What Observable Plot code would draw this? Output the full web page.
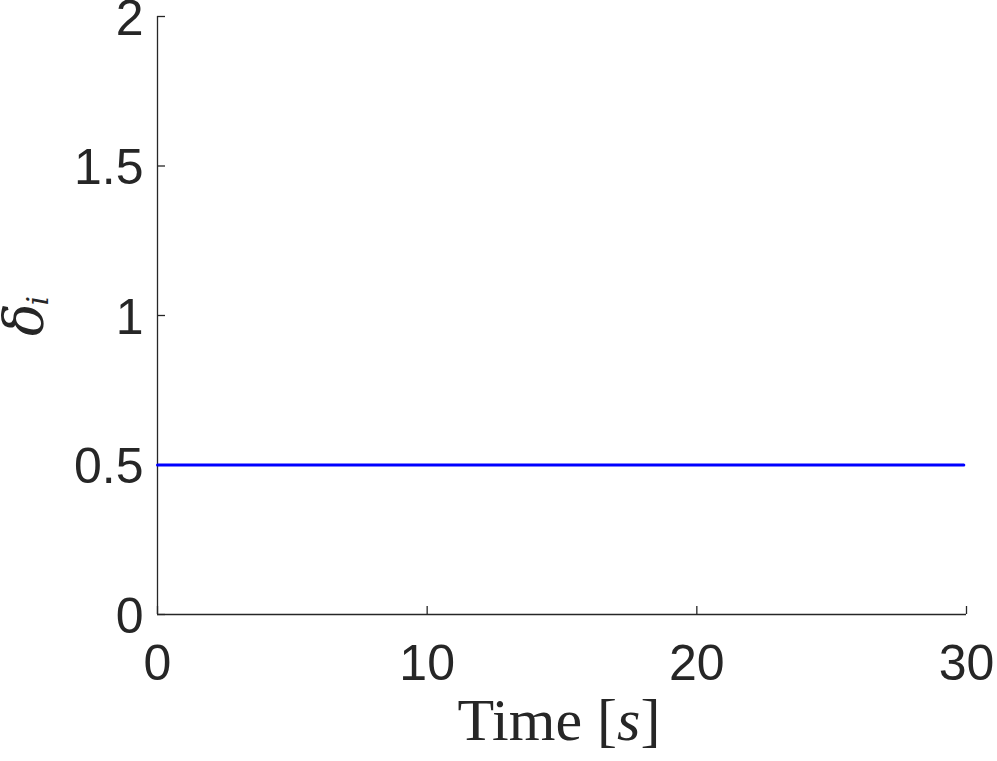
<!DOCTYPE html>
<html>
<head>
<meta charset="utf-8">
<script src="https://cdn.jsdelivr.net/npm/d3@7"></script>
<script src="https://cdn.jsdelivr.net/npm/@observablehq/plot@0.6"></script>
<style>
  html, body { margin: 0; padding: 0; background: #fff; }
</style>
</head>
<body>
<div id="chart"></div>
<script>
// Data
const time = [0, 29.9];
const delta = [0.5, 0.5];
const xTicks = [0, 10, 20, 30];
const yTicks = [0, 0.5, 1, 1.5, 2];
const xDomain = [0, 30];
const yDomain = [0, 2];

const rows = time.map((t, i) => ({t, d: delta[i]}));
const axisColor = "#262626";

const plot = Plot.plot({
  width: 997,
  height: 761,
  marginLeft: 157,
  marginRight: 31,
  marginTop: 16,
  marginBottom: 147,
  style: {fontFamily: "'Liberation Sans', Arial, Helvetica, sans-serif", fontSize: "50px", color: axisColor, background: "#fff", overflow: "visible"},
  x: {domain: xDomain},
  y: {domain: yDomain},
  marks: [
    Plot.axisX({ticks: xTicks, tickFormat: d => String(d), tickSize: -8, tickPadding: 38, label: null, stroke: axisColor, strokeWidth: 1.3, fill: axisColor}),
    // y tick marks (inward)
    Plot.axisY({ticks: yTicks, tickFormat: () => "", tickSize: -8, label: null, stroke: axisColor, strokeWidth: 1.3}),
    // y tick labels
    Plot.axisY({ticks: yTicks, tickFormat: d => String(d), tickSize: 0, tickPadding: 14, dy: 2, label: null, fill: axisColor}),
    Plot.ruleY([yDomain[0]], {stroke: axisColor, strokeWidth: 1.3}),
    Plot.ruleX([xDomain[0]], {stroke: axisColor, strokeWidth: 1.3}),
    Plot.lineY(rows, {x: "t", y: "d", stroke: "#0000ff", strokeWidth: 3})
  ]
});

const svg = d3.select(plot);
// x label
const xl = svg.append("text")
  .attr("x", 559)
  .attr("y", 740)
  .attr("text-anchor", "middle")
  .attr("font-family", "'Liberation Serif', 'DejaVu Serif', serif")
  .attr("font-size", 60)
  .attr("fill", axisColor);
xl.append("tspan").text("Time [");
xl.append("tspan").attr("font-style", "italic").text("s");
xl.append("tspan").text("]");

// y label
const yl = svg.append("text")
  .attr("transform", "translate(42,316) rotate(-90)")
  .attr("text-anchor", "middle")
  .attr("font-family", "'DejaVu Serif', 'Liberation Serif', serif")
  .attr("font-size", 54)
  .attr("fill", axisColor);
yl.append("tspan").attr("font-style", "italic").text("δ");
yl.append("tspan").attr("font-style", "italic").attr("font-size", 30).attr("dx", -2).attr("dy", 6).text("i");

document.getElementById("chart").appendChild(plot);
</script>
</body>
</html>
